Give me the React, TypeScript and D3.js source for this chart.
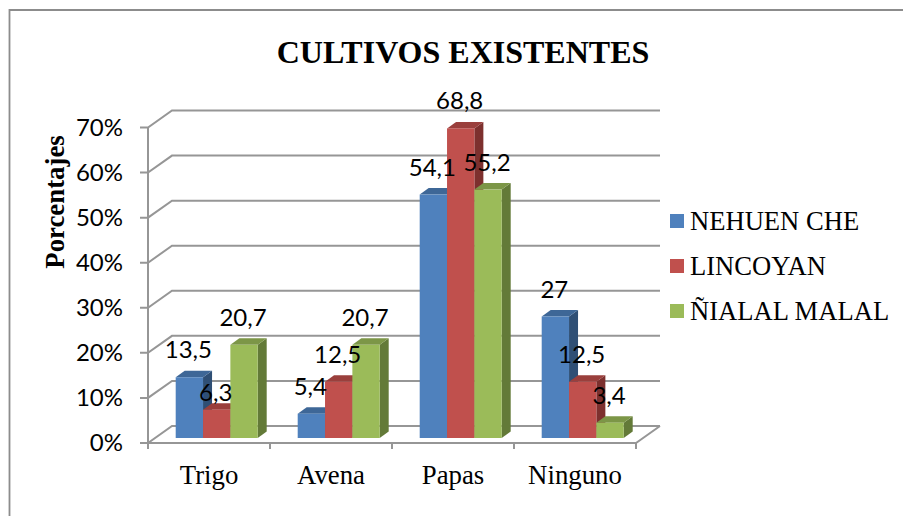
import React, { useEffect, useRef } from "react";
import * as d3 from "d3";

const categories = ["Trigo", "Avena", "Papas", "Ninguno"];
const seriesNames = ["NEHUEN CHE", "LINCOYAN", "ÑIALAL MALAL"];
const nehuen = [13.5, 5.4, 54.1, 27];
const lincoyan = [6.3, 12.5, 68.8, 12.5];
const nialal = [20.7, 20.7, 55.2, 3.4];
const yTicks = [0, 10, 20, 30, 40, 50, 60, 70];

const seriesValues = [nehuen, lincoyan, nialal];
const frontColors = ["#4f81bd", "#c0504d", "#9bbb59"];
const topColors = ["#3e6797", "#9a3f3c", "#7c9647"];
const sideColors = ["#2f4f75", "#7d302e", "#637a38"];

const serif = "'Liberation Serif', serif";
const sans = "Lato, sans-serif";
const gridColor = "#969696";

export default function App() {
  const ref = useRef<SVGSVGElement>(null);

  useEffect(() => {
    const svg = d3.select(ref.current);
    svg.selectAll("*").remove();

    const line = d3.line();

    // outer frame: only the top and left edges are in the picture
    svg.append("path")
      .attr("d", line([[9.5, 516], [9.5, 10], [903, 10]]))
      .attr("fill", "none").attr("stroke", "#8c8c8c").attr("stroke-width", 1.8);

    svg.append("text")
      .attr("x", 463).attr("y", 63)
      .attr("text-anchor", "middle")
      .style("font", `bold 32px ${serif}`)
      .text("CULTIVOS EXISTENTES");

    const left = 148, right = 636;
    const depthX = 24, depthY = -17;
    const barDepthX = 9, barDepthY = -6.5;

    const x = d3.scaleBand().domain(categories).range([left, right]);
    const y = d3.scaleLinear().domain([0, 70]).range([443, 127.5]);
    const barY = d3.scaleLinear().domain([0, 70]).range([438, 123]);
    const xInner = d3.scaleBand()
      .domain(seriesNames)
      .range([27.7, 109.7]);

    // walls: gridlines with their slanted part on the left
    const wall = svg.append("g").attr("fill", "none").attr("stroke", gridColor).attr("stroke-width", 2);
    yTicks.forEach(t => {
      wall.append("path").attr("d", line([
        [left - 8, y(t)],
        [left, y(t)],
        [left + depthX, y(t) + depthY],
        [right + depthX, y(t) + depthY],
      ]));
    });
    // floor and axes
    wall.append("path").attr("d", line([[left, y(70)], [left, y(0) + 6]]));
    wall.append("path").attr("d", line([[left, y(0)], [right, y(0)], [right + depthX, y(0) + depthY]]));
    categories.concat("").forEach((c, i) => {
      const px = left + i * x.bandwidth();
      wall.append("path").attr("d", line([[px, y(0)], [px, y(0) + 6]]));
    });

    yTicks.forEach(t => {
      svg.append("text")
        .attr("x", 123).attr("y", y(t) + 8)
        .attr("text-anchor", "end")
        .style("font", `24px ${sans}`)
        .text(`${t}%`);
    });

    svg.append("text")
      .attr("transform", "translate(64,202) rotate(-90)")
      .attr("text-anchor", "middle")
      .style("font", `bold 26.8px ${serif}`)
      .text("Porcentajes");

    categories.forEach(c => {
      svg.append("text")
        .attr("x", x(c)! + 61).attr("y", 484)
        .attr("text-anchor", "middle")
        .style("font", `26.8px ${serif}`)
        .text(c);
    });

    // bars, drawn category by category
    const bars = svg.append("g");
    categories.forEach((c, ci) => {
      seriesNames.forEach((s, si) => {
        const v = seriesValues[si][ci];
        const x0 = x(c)! + xInner(s)!;
        const x1 = x0 + xInner.bandwidth();
        const top = barY(v), base = barY(0);
        bars.append("path").attr("fill", sideColors[si]).attr("d", line([
          [x1, base], [x1, top],
          [x1 + barDepthX, top + barDepthY], [x1 + barDepthX, base + barDepthY],
        ])! + "Z");
        bars.append("path").attr("fill", topColors[si]).attr("d", line([
          [x0, top], [x0 + barDepthX, top + barDepthY],
          [x1 + barDepthX, top + barDepthY], [x1, top],
        ])! + "Z");
        bars.append("rect")
          .attr("x", x0).attr("y", top)
          .attr("width", xInner.bandwidth()).attr("height", base - top)
          .attr("fill", frontColors[si]);
      });
    });

    // value labels go on top of every bar
    categories.forEach((c, ci) => {
      seriesNames.forEach((s, si) => {
        const v = seriesValues[si][ci];
        const low = c === "Trigo" && si === 1; // this one sits closer to its bar
        svg.append("text")
          .attr("x", x(c)! + xInner(s)! + xInner.bandwidth() / 2 - 1)
          .attr("y", barY(v) - (low ? 9 : 19))
          .attr("text-anchor", "middle")
          .style("font", `24px ${sans}`)
          .text(String(v).replace(".", ","));
      });
    });

    // legend
    const legendY = d3.scalePoint().domain(seriesNames).range([221, 311]);
    seriesNames.forEach((s, i) => {
      svg.append("rect")
        .attr("x", 670).attr("y", legendY(s)! - 7)
        .attr("width", 14).attr("height", 14)
        .attr("fill", frontColors[i]);
      svg.append("text")
        .attr("x", 690).attr("y", legendY(s)! + 9)
        .style("font", `26.6px ${serif}`)
        .text(s);
    });
  }, []);

  return (
    <svg
      ref={ref}
      width={903}
      height={516}
      style={{ position: "absolute", left: 0, top: 0, background: "#fff" }}
    />
  );
}
